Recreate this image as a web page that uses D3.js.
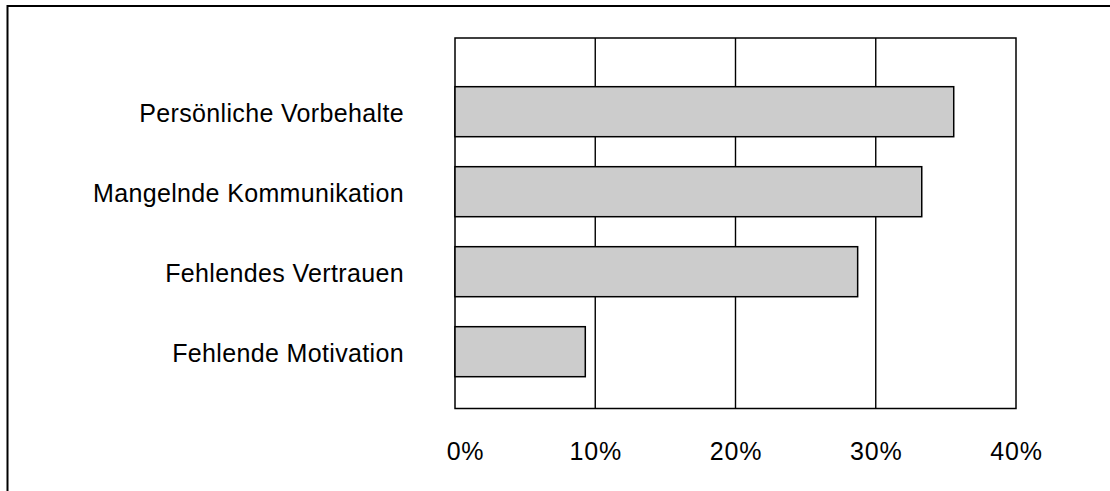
<!DOCTYPE html>
<html>
<head>
<meta charset="utf-8">
<script src="https://cdn.jsdelivr.net/npm/d3@7"></script>
<style>
  html, body { margin: 0; padding: 0; background: #fff; }
  svg { display: block; }
  text { font-family: "Liberation Sans", Arial, sans-serif; fill: #000; }
</style>
</head>
<body>
<svg id="chart" width="1110" height="491"></svg>
<script>
const categories = ["Persönliche Vorbehalte", "Mangelnde Kommunikation", "Fehlendes Vertrauen", "Fehlende Motivation"];
const values = [0.3556, 0.3328, 0.2871, 0.0929];
const tickValues = [0, 0.1, 0.2, 0.3, 0.4];
const tickLabels = ["0%", "10%", "20%", "30%", "40%"];

const svg = d3.select("#chart");

// outer frame (only top and left edges visible)
svg.append("rect")
  .attr("x", 7.5).attr("y", 6)
  .attr("width", 1200).attr("height", 600)
  .attr("fill", "none").attr("stroke", "#000").attr("stroke-width", 2);

const plot = { left: 455, right: 1016, top: 38, bottom: 408.5 };

const x = d3.scaleLinear().domain([0, 0.4]).range([plot.left, plot.right]);
const y = d3.scaleBand().domain(categories)
  .range([71.7, 391.7]).paddingInner(0.375).paddingOuter(0.1875);

// plot border
svg.append("rect")
  .attr("x", plot.left).attr("y", plot.top)
  .attr("width", plot.right - plot.left).attr("height", plot.bottom - plot.top)
  .attr("fill", "none").attr("stroke", "#000").attr("stroke-width", 1.5);

// gridlines
svg.append("g").selectAll("line")
  .data(tickValues.slice(1, -1))
  .join("line")
  .attr("x1", d => x(d)).attr("x2", d => x(d))
  .attr("y1", plot.top).attr("y2", plot.bottom)
  .attr("stroke", "#000").attr("stroke-width", 1.4);

// bars
svg.append("g").selectAll("rect")
  .data(categories)
  .join("rect")
  .attr("x", x(0))
  .attr("y", d => y(d))
  .attr("width", (d, i) => x(values[i]) - x(0))
  .attr("height", y.bandwidth())
  .attr("fill", "#cccccc")
  .attr("stroke", "#000").attr("stroke-width", 1.5);

// category labels
svg.append("g").selectAll("text")
  .data(categories)
  .join("text")
  .attr("x", 404)
  .attr("y", d => y(d) + y.bandwidth() / 2 + 10)
  .attr("text-anchor", "end")
  .attr("font-size", 25)
  .attr("letter-spacing", 0.35)
  .text(d => d);

// x axis labels
const xAxis = d3.axisBottom(x)
  .tickValues(tickValues)
  .tickFormat((d, i) => tickLabels[i])
  .tickSize(0);
const gx = svg.append("g")
  .attr("transform", `translate(0,${plot.bottom})`)
  .call(xAxis);
gx.select(".domain").remove();
gx.selectAll("text")
  .attr("font-size", 25)
  .attr("letter-spacing", 0.8)
  .attr("font-family", "'Liberation Sans', Arial, sans-serif")
  .attr("dy", 0)
  .attr("y", 51)
  .attr("dx", (d, i) => i === 0 ? 10 : 0);
</script>
</body>
</html>
